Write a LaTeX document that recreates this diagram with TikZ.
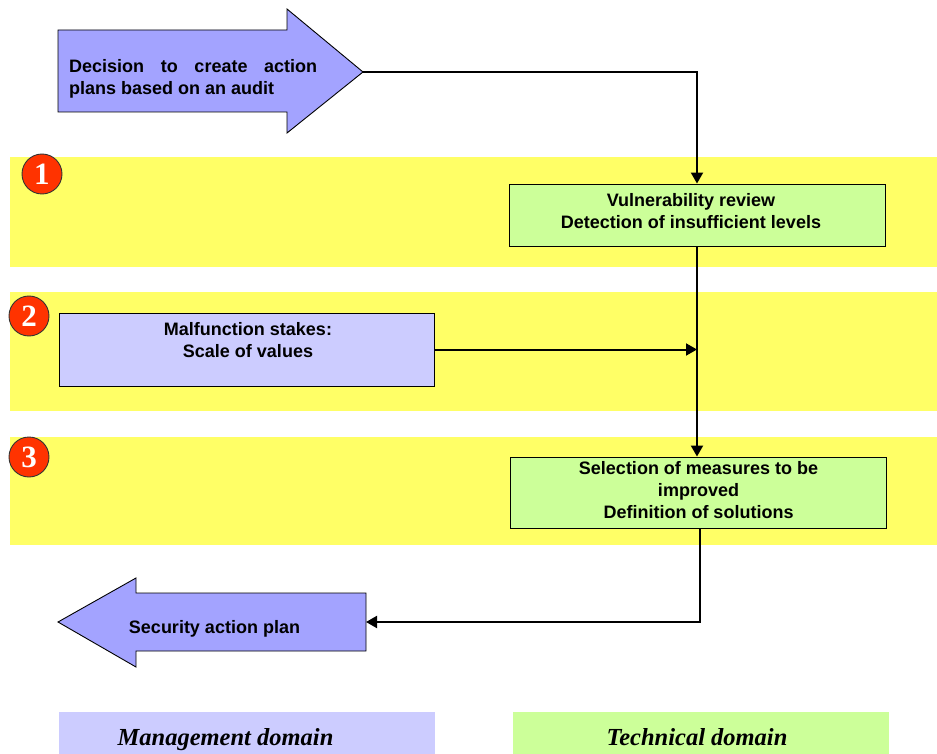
\documentclass[tikz,border=0pt]{standalone}
\usepackage{fontspec}
\setmainfont{Liberation Sans}
\newfontfamily\legendserif{Liberation Serif}
\usetikzlibrary{arrows.meta,calc}

\definecolor{bandyellow}{HTML}{FFFF66}
\definecolor{arrowblue}{HTML}{A3A3FF}
\definecolor{mgmtlilac}{HTML}{CCCCFF}
\definecolor{techgreen}{HTML}{CCFF99}
\definecolor{stepred}{HTML}{FF3300}

\tikzset{
  band/.style={fill=bandyellow, draw=none},
  bigarrow/.style={fill=arrowblue, draw=black, line width=0.9pt, line join=miter},
  techbox/.style={rectangle, fill=techgreen, draw=black, line width=0.9pt, inner sep=0pt},
  mgmtbox/.style={rectangle, fill=mgmtlilac, draw=black, line width=0.9pt, inner sep=0pt},
  boxtext/.style={inner sep=0pt, align=center, font=\bfseries\fontsize{18}{22}\selectfont},
  stepmark/.style={circle, fill=stepred, draw=black!80, line width=0.9pt, minimum size=40pt,
    inner sep=0pt, text=white, font=\legendserif\bfseries\fontsize{31}{31}\selectfont},
  legendbox/.style={rectangle, draw=none, inner sep=0pt},
  legendtext/.style={inner sep=0pt, font=\legendserif\bfseries\itshape\fontsize{24.5}{26}\selectfont},
  conn/.style={draw=black, line width=2pt, -{Triangle[length=11pt,width=12pt]}},
}

\begin{document}
\begin{tikzpicture}[x=1pt, y=-1pt]
\useasboundingbox (0,0) rectangle (937,754);

% stage bands
\fill[band] (10,157) rectangle (937,267);
\fill[band] (10,292) rectangle (937,411);
\fill[band] (10,437) rectangle (937,545);

% stage markers
\node[stepmark] (mark1) at (42,174) {1};
\node[stepmark] (mark2) at (29,316) {2};
\node[stepmark] (mark3) at (29,457) {3};

% incoming decision arrow
\draw[bigarrow] (58,30) -- (287,30) -- (287,9) -- (363,72) -- (287,133)
  -- (287,112) -- (58,112) -- cycle;
\coordinate (decisiontip) at (363,72);
\node[inner sep=0pt, anchor=west, align=left, font=\bfseries\fontsize{18}{22}\selectfont]
  (decision) at (69,78.5)
  {\makebox[248pt][s]{Decision to create action}\\plans based on an audit};

% outgoing action plan arrow
\draw[bigarrow] (366,593) -- (136,593) -- (136,578) -- (58,622) -- (136,667)
  -- (136,651) -- (366,651) -- cycle;
\coordinate (plantail) at (366,622);
\node[boxtext] (plan) at (214.5,629) {Security action plan};

% process boxes
\node[techbox, minimum width=376pt, minimum height=62pt] (vuln) at (697,215) {};
\node[boxtext] (vulntext) at (691,211.5)
  {Vulnerability review\\Detection of insufficient levels};

\node[mgmtbox, minimum width=375pt, minimum height=73pt] (stakes) at (246.5,349.5) {};
\node[boxtext] (stakestext) at (248,340.5)
  {Malfunction stakes:\\Scale of values};

\node[techbox, minimum width=376pt, minimum height=71pt] (sel) at (698,492.5) {};
\node[boxtext] (seltext) at (698.5,490)
  {Selection of measures to be\\improved\\Definition of solutions};

% connectors
\coordinate (joint) at (vuln.south |- stakes.east);
\draw[conn] (decisiontip) -| (vuln.north);
\draw[conn, shorten <=1pt] (vuln.south) -- (vuln.south |- sel.north);
\draw[conn] (stakes.east) -- (joint);
\draw[conn] ($(sel.south)+(2,0)$) |- (plantail);

% domain legend
\node[legendbox, fill=mgmtlilac, minimum width=376pt, minimum height=42pt, anchor=north west]
  (mgmtlegend) at (59,712) {};
\node[legendtext, anchor=base] (mgmtlabel) at (225.5,745) {Management domain};
\node[legendbox, fill=techgreen, minimum width=376pt, minimum height=42pt, anchor=north west]
  (techlegend) at (513,712) {};
\node[legendtext, anchor=base] (techlabel) at (697,745) {Technical domain};
\end{tikzpicture}
\end{document}
